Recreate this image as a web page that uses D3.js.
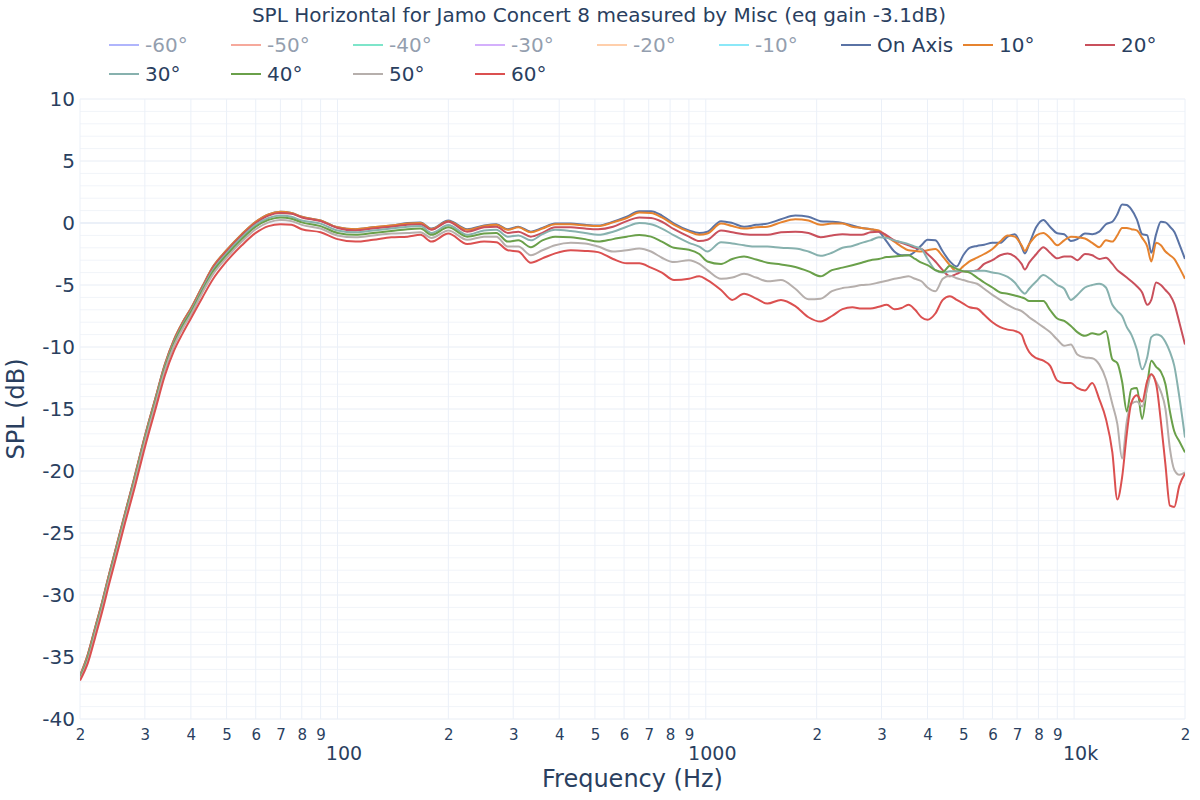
<!DOCTYPE html>
<html><head><meta charset="utf-8">
<script src="https://cdn.jsdelivr.net/npm/d3@7"></script>
<style>
body{margin:0;background:#fff;}
svg{display:block;font-family:"DejaVu Sans",Verdana,sans-serif;}
</style>
</head><body>
<svg id="chart" width="1200" height="800"></svg>
<script>
const titleText = "SPL Horizontal for Jamo Concert 8 measured by Misc (eq gain -3.1dB)";
const freqs = [20,21,22,23,24,25,26.5,28,30,32, 34,36,38,40,43,46,50,55,60,65, 70,75,80,90,100,112,125,140,155,168, 180,200,225,250,270,290,310,335,360,390, 430,470,510,560,610,660,710,760,820,900, 960,1010,1100,1180,1270,1370,1470,1600,1750,1900, 2050,2200,2350,2500,2650,2800,2950,3100,3250,3400, 3550,3700,3850,4000,4200,4400,4600,4800,5000,5200, 5450,5700,6000,6300,6600,6900,7200,7350,7550,7900, 8250,8600,9000,9400,9800,10200,10700,11200,11700,12200, 12700,13100,13500,13900,14300,14800,15300,15800,16200,16700, 17200,17700,18200,18700,19300,20000];

const onAxis = [-36.5,-34.8,-32.6,-30.5,-28.3,-26.3,-23.4,-20.7,-17.2,-14.2,
-11.4,-9.4,-8.0,-6.9,-5.1,-3.5,-2.2,-0.9,0.1,0.7,
0.9,0.8,0.5,0.2,-0.35,-0.5,-0.35,-0.2,0.0,0.05,
-0.45,0.2,-0.5,-0.2,-0.1,-0.5,-0.3,-0.7,-0.4,-0.05,
-0.05,-0.15,-0.2,0.1,0.5,0.95,0.95,0.6,-0.05,-0.6,
-0.8,-0.7,0.15,0.0,-0.3,-0.15,-0.05,0.3,0.6,0.5,
0.15,0.1,0.0,-0.2,-0.4,-0.5,-0.7,-1.5,-2.3,-2.6,
-2.6,-2.3,-1.8,-1.35,-1.4,-2.3,-3.1,-3.5,-2.6,-2.0,
-1.85,-1.75,-1.6,-1.6,-1.1,-0.9,-1.9,-2.45,-1.7,-0.3,
0.25,-0.3,-0.83,-0.9,-1.45,-1.3,-0.85,-0.9,-0.7,-0.1,
0.1,0.7,1.5,1.45,1.1,0.3,-0.9,-1.0,-2.4,-0.9,
0.1,0.05,-0.3,-0.7,-1.7,-2.9];

const deg10 = [-36.5,-34.8,-32.6,-30.5,-28.3,-26.3,-23.4,-20.7,-17.2,-14.2,
-11.4,-9.4,-8.0,-6.9,-5.1,-3.5,-2.2,-0.9,0.1,0.7,
0.9,0.8,0.5,0.2,-0.35,-0.5,-0.35,-0.2,-0.05,0.0,
-0.5,0.15,-0.55,-0.25,-0.15,-0.55,-0.35,-0.75,-0.45,-0.1,
-0.1,-0.2,-0.25,0.05,0.4,0.85,0.8,0.45,-0.15,-0.7,
-0.95,-0.85,-0.05,-0.25,-0.45,-0.35,-0.3,0.05,0.3,0.2,
-0.15,-0.05,-0.05,-0.3,-0.4,-0.5,-0.6,-1.1,-1.5,-1.9,
-2.2,-2.25,-2.3,-2.2,-2.1,-2.7,-3.4,-3.9,-3.5,-3.1,
-2.8,-2.5,-2.1,-1.5,-1.0,-1.1,-1.8,-2.25,-1.7,-1.0,
-0.8,-1.2,-1.8,-1.4,-1.1,-1.15,-1.25,-1.6,-1.95,-1.4,
-1.5,-1.0,-0.4,-0.4,-0.5,-0.6,-1.2,-1.9,-3.1,-1.6,
-1.8,-2.3,-2.6,-2.9,-3.6,-4.5];

const deg20 = [-36.6,-34.9,-32.7,-30.6,-28.4,-26.4,-23.5,-20.8,-17.3,-14.3,
-11.5,-9.5,-8.1,-7.0,-5.2,-3.6,-2.3,-1.0,0.0,0.6,
0.8,0.75,0.45,0.15,-0.4,-0.6,-0.45,-0.3,-0.15,-0.1,
-0.55,0.1,-0.7,-0.35,-0.3,-0.8,-0.7,-1.1,-0.8,-0.35,
-0.35,-0.45,-0.5,-0.3,0.15,0.45,0.4,0.1,-0.5,-1.1,
-1.45,-1.35,-0.6,-0.75,-0.9,-0.95,-0.95,-0.75,-0.7,-0.8,
-1.15,-1.0,-0.9,-0.95,-0.95,-0.75,-0.7,-1.0,-1.4,-1.6,
-1.8,-2.0,-2.1,-2.5,-3.1,-3.8,-4.3,-4.1,-3.9,-3.9,
-3.8,-3.3,-3.0,-2.6,-2.45,-2.7,-3.3,-3.75,-3.2,-2.5,
-1.95,-2.4,-2.85,-2.7,-2.7,-3.0,-2.5,-2.6,-2.9,-2.8,
-3.3,-3.8,-4.1,-4.4,-4.7,-5.1,-5.6,-6.6,-6.2,-4.8,
-5.0,-5.4,-5.8,-6.5,-8.0,-9.8];

const deg30 = [-36.6,-35.0,-32.8,-30.7,-28.5,-26.5,-23.6,-20.9,-17.4,-14.4,
-11.6,-9.6,-8.2,-7.1,-5.3,-3.75,-2.45,-1.15,-0.15,0.4,
0.6,0.5,0.2,-0.05,-0.6,-0.75,-0.6,-0.45,-0.3,-0.25,
-0.8,-0.16,-0.95,-0.6,-0.55,-1.1,-1.0,-1.4,-0.9,-0.55,
-0.65,-0.8,-0.95,-0.7,-0.3,0.0,-0.1,-0.45,-1.0,-1.6,
-1.9,-2.3,-1.55,-1.65,-1.8,-1.9,-1.9,-2.0,-2.05,-2.3,
-2.65,-2.4,-2.0,-1.85,-1.6,-1.4,-1.15,-1.2,-1.4,-1.55,
-1.7,-1.9,-2.1,-2.9,-3.8,-4.0,-3.9,-3.9,-3.9,-3.9,
-3.85,-3.85,-4.0,-4.1,-4.35,-4.8,-5.5,-5.7,-5.3,-4.7,
-4.2,-4.5,-5.0,-5.3,-6.2,-5.8,-5.2,-5.0,-4.9,-5.2,
-6.6,-7.1,-7.5,-8.4,-9.0,-10.2,-11.8,-10.8,-9.2,-9.0,
-9.1,-9.6,-10.4,-11.5,-14.0,-17.3];

const deg40 = [-36.7,-35.1,-32.9,-30.8,-28.6,-26.6,-23.7,-21.0,-17.5,-14.5,
-11.7,-9.7,-8.3,-7.2,-5.45,-3.9,-2.6,-1.3,-0.3,0.25,
0.45,0.35,0.05,-0.25,-0.8,-0.95,-0.8,-0.65,-0.5,-0.45,
-0.95,-0.35,-1.1,-0.85,-0.8,-1.5,-1.4,-1.95,-1.4,-1.1,
-1.15,-1.3,-1.5,-1.3,-1.1,-0.97,-1.1,-1.5,-2.0,-2.15,
-2.5,-3.1,-3.3,-2.9,-2.7,-2.95,-3.2,-3.35,-3.55,-3.9,
-4.3,-3.8,-3.6,-3.4,-3.2,-3.0,-2.9,-2.75,-2.7,-2.65,
-2.6,-2.9,-3.2,-3.4,-3.8,-3.95,-3.45,-3.7,-3.9,-4.0,
-4.4,-4.8,-5.2,-5.6,-5.7,-5.85,-6.0,-6.1,-6.3,-6.3,
-6.3,-7.0,-7.7,-7.9,-8.3,-8.8,-9.1,-8.9,-9.0,-8.7,
-11.0,-11.3,-12.8,-15.2,-13.4,-13.3,-15.8,-13.0,-11.1,-11.6,
-12.0,-13.0,-15.2,-16.8,-17.6,-18.5];

const deg50 = [-36.8,-35.3,-33.1,-31.0,-28.8,-26.8,-23.9,-21.2,-17.7,-14.7,
-11.9,-9.9,-8.5,-7.4,-5.6,-4.1,-2.8,-1.5,-0.5,0.05,
0.25,0.15,-0.15,-0.45,-1.0,-1.15,-1.0,-0.85,-0.8,-0.75,
-1.2,-0.6,-1.35,-1.1,-1.1,-1.9,-1.9,-2.6,-2.2,-1.8,
-1.6,-1.65,-1.9,-2.3,-2.2,-2.05,-2.3,-2.8,-3.15,-3.0,
-3.3,-3.8,-4.5,-4.4,-4.1,-4.4,-4.7,-4.6,-5.3,-6.15,
-6.1,-5.5,-5.25,-5.15,-5.0,-4.95,-4.8,-4.65,-4.5,-4.4,
-4.3,-4.5,-4.7,-5.2,-5.5,-4.5,-4.25,-4.45,-4.6,-4.75,
-4.9,-5.3,-5.8,-6.2,-6.6,-6.9,-7.1,-7.3,-7.6,-8.0,
-8.4,-8.8,-9.4,-9.9,-9.8,-10.6,-10.85,-10.9,-11.4,-12.6,
-14.6,-16.2,-19.0,-16.0,-14.6,-14.4,-14.8,-13.3,-12.2,-12.8,
-13.6,-15.0,-18.2,-19.9,-20.3,-20.1];

const deg60 = [-36.9,-35.5,-33.4,-31.3,-29.1,-27.1,-24.2,-21.6,-18.1,-15.1,
-12.3,-10.3,-8.9,-7.7,-6.0,-4.5,-3.1,-1.8,-0.8,-0.25,
-0.1,-0.15,-0.5,-0.75,-1.3,-1.5,-1.35,-1.15,-1.1,-0.95,
-1.5,-0.85,-1.7,-1.5,-1.55,-2.2,-2.3,-3.2,-2.85,-2.45,
-2.2,-2.25,-2.35,-2.9,-3.25,-3.25,-3.6,-4.0,-4.6,-4.5,
-4.3,-4.6,-5.4,-6.2,-5.7,-6.1,-6.5,-6.2,-6.7,-7.6,
-7.95,-7.5,-6.95,-6.8,-6.9,-6.9,-6.75,-6.6,-6.95,-6.85,
-6.6,-7.0,-7.6,-7.8,-7.3,-6.2,-5.9,-6.2,-6.5,-6.8,
-6.9,-7.4,-8.0,-8.4,-8.6,-8.7,-9.0,-9.7,-10.4,-10.9,
-11.1,-11.5,-12.7,-12.9,-12.9,-13.3,-13.5,-12.9,-14.2,-15.8,
-18.5,-22.3,-20.5,-17.0,-14.5,-13.9,-14.4,-12.7,-12.2,-13.0,
-16.0,-19.5,-22.8,-22.9,-21.2,-20.2];

const seriesNames = ["-60°","-50°","-40°","-30°","-20°","-10°","On Axis","10°","20°","30°","40°","50°","60°"];
const seriesColors = ["#636efa","#ef553b","#00cc96","#ab63fa","#ffa15a","#19d3f3","#5a73a5","#e6832f","#c9505c","#87b1ae","#6aa04a","#b6afac","#db5050"];
const seriesValues = [null,null,null,null,null,null,onAxis,deg10,deg20,deg30,deg40,deg50,deg60];

const xTickValues = [20,30,40,50,60,70,80,90,100,200,300,400,500,600,700,800,900,1000,2000,3000,4000,5000,6000,7000,8000,9000,10000,20000];
const xTickLabels = ["2","3","4","5","6","7","8","9","100","2","3","4","5","6","7","8","9","1000","2","3","4","5","6","7","8","9","10k","2"];
const xMajor = [100,1000,10000];
const yTickValues = [10,5,0,-5,-10,-15,-20,-25,-30,-35,-40];
const yMinorValues = d3.range(-40, 11, 1);

const svg = d3.select("#chart");
const textColor = "#2a3f5f";
const L = 80, R = 1185, T = 99, B = 719;
const x = d3.scaleLog().domain([20, 20000]).range([L, R]);
const y = d3.scaleLinear().domain([-40, 10]).range([B, T]);

// grid
const grid = svg.append("g");
grid.selectAll(".ym").data(yMinorValues).enter().append("line")
  .attr("x1", L).attr("x2", R).attr("y1", d => y(d)).attr("y2", d => y(d))
  .attr("stroke", d => d % 5 === 0 ? "#e8edf5" : "#f1f4f9").attr("stroke-width", 1);
grid.selectAll(".xg").data(xTickValues).enter().append("line")
  .attr("x1", d => x(d)).attr("x2", d => x(d)).attr("y1", T).attr("y2", B)
  .attr("stroke", "#ebf0f8").attr("stroke-width", 1);
grid.append("line").attr("x1", L).attr("x2", R).attr("y1", y(0)).attr("y2", y(0))
  .attr("stroke", "#ebf0f8").attr("stroke-width", 2);

// axes
const xAxis = svg.append("g").attr("transform", `translate(0,${B})`)
  .call(d3.axisBottom(x).tickValues(xTickValues).tickFormat((d, i) => xTickLabels[i]).tickSize(0));
xAxis.select(".domain").remove();
xAxis.selectAll("text")
  .attr("fill", textColor).attr("font-family", "DejaVu Sans, Verdana, sans-serif")
  .attr("dy", 0)
  .attr("y", d => xMajor.includes(d) ? 41 : 21)
  .attr("x", d => xMajor.includes(d) ? 6 : 0)
  .attr("font-size", d => xMajor.includes(d) ? 19 : 15);

const yAxis = svg.append("g").attr("transform", `translate(${L},0)`)
  .call(d3.axisLeft(y).tickValues(yTickValues).tickFormat(d => d).tickSize(0).tickPadding(5));
yAxis.select(".domain").remove();
yAxis.selectAll("text").attr("fill", textColor).attr("font-size", 20)
  .attr("font-family", "DejaVu Sans, Verdana, sans-serif");

// lines
svg.append("defs").append("clipPath").attr("id", "clip")
  .append("rect").attr("x", L).attr("y", T).attr("width", R - L).attr("height", B - T);
const line = d3.line().x((d, i) => x(freqs[i])).y(d => y(d)).curve(d3.curveMonotoneX);
const plot = svg.append("g").attr("clip-path", "url(#clip)");
seriesValues.forEach((vals, i) => {
  if (!vals) return;
  plot.append("path").datum(vals).attr("d", line)
    .attr("fill", "none").attr("stroke", seriesColors[i]).attr("stroke-width", 2)
    .attr("stroke-linejoin", "round");
});

// title
svg.append("text").attr("x", 599).attr("y", 22).attr("text-anchor", "middle")
  .attr("font-size", 20).attr("fill", textColor).text(titleText);

// legend
const leg = svg.append("g");
seriesNames.forEach((name, i) => {
  const col = i % 9, row = Math.floor(i / 9);
  const gx = 109 + col * 122, gy = 45 + row * 29;
  const g = leg.append("g").attr("transform", `translate(${gx},${gy})`)
    .attr("opacity", seriesValues[i] ? 1 : 0.5);
  g.append("line").attr("x1", 0).attr("x2", 30).attr("y1", 0).attr("y2", 0)
    .attr("stroke", seriesColors[i]).attr("stroke-width", 2);
  g.append("text").attr("x", 36).attr("y", 7).attr("font-size", 20)
    .attr("fill", textColor).text(name);
});

// axis titles
svg.append("text").attr("x", (L + R) / 2).attr("y", 787).attr("text-anchor", "middle")
  .attr("font-size", 24).attr("fill", textColor).text("Frequency (Hz)");
svg.append("text").attr("transform", `translate(24,${(T + B) / 2}) rotate(-90)`)
  .attr("text-anchor", "middle").attr("font-size", 24).attr("fill", textColor).text("SPL (dB)");
</script>
</body></html>
